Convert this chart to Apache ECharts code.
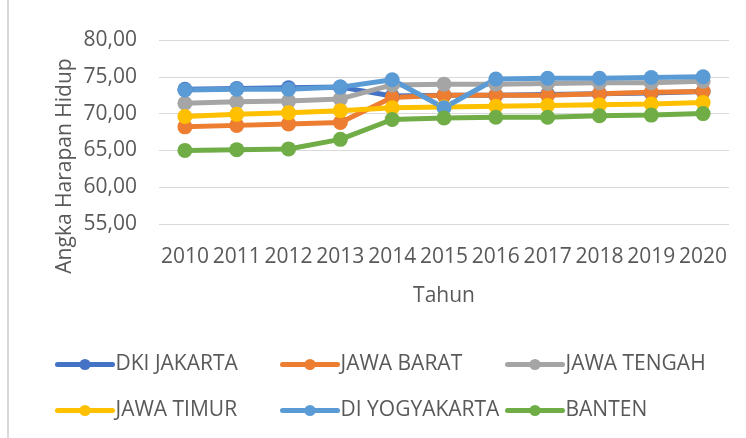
<!DOCTYPE html>
<html>
<head>
<meta charset="utf-8">
<script src="https://cdn.jsdelivr.net/npm/echarts@6/dist/echarts.min.js"></script>
<style>
  html, body { margin: 0; padding: 0; background: #fff; }
  #chart { width: 746px; height: 438px; }
</style>
</head>
<body>
<div id="chart"></div>
<script>
  // tahun (kategori sumbu x)
  const years = ["2010", "2011", "2012", "2013", "2014", "2015", "2016", "2017", "2018", "2019", "2020"];
  // angka harapan hidup per provinsi
  const dkiJakarta = [73.3, 73.4, 73.5, 73.6, 72.4, 72.5, 72.5, 72.6, 72.7, 72.8, 73.0];
  const jawaBarat = [68.2, 68.4, 68.6, 68.8, 72.2, 72.5, 72.5, 72.5, 72.7, 72.9, 73.0];
  const jawaTengah = [71.4, 71.6, 71.7, 72.0, 73.9, 74.0, 74.0, 74.1, 74.2, 74.2, 74.4];
  const jawaTimur = [69.6, 69.9, 70.1, 70.4, 70.8, 70.9, 71.0, 71.1, 71.2, 71.3, 71.5];
  const diYogyakarta = [73.2, 73.3, 73.3, 73.6, 74.6, 70.8, 74.7, 74.8, 74.8, 74.9, 75.0];
  const banten = [65.0, 65.1, 65.2, 66.5, 69.2, 69.4, 69.5, 69.5, 69.7, 69.8, 70.0];

  const seriesList = [
    { name: "DKI JAKARTA", data: dkiJakarta, color: "#4472C4" },
    { name: "JAWA BARAT", data: jawaBarat, color: "#ED7D31" },
    { name: "JAWA TENGAH", data: jawaTengah, color: "#A5A5A5" },
    { name: "JAWA TIMUR", data: jawaTimur, color: "#FFC000" },
    { name: "DI YOGYAKARTA", data: diYogyakarta, color: "#5B9BD5" },
    { name: "BANTEN", data: banten, color: "#70AD47" }
  ];

  const font = "'Open Sans', sans-serif";
  const textColor = "#595959";

  // posisi legenda: 3 kolom x 2 baris
  const legendPos = [[55, 354], [280, 354], [505, 354], [55, 400], [280, 400], [505, 400]];

  const chart = echarts.init(document.getElementById("chart"));
  const option = {
    backgroundColor: "#fff",
    animation: false,
    grid: { left: 159, top: 40, width: 570, height: 184 },
    legend: seriesList.map((s, i) => ({
      data: [s.name],
      left: legendPos[i][0],
      top: legendPos[i][1],
      padding: 0,
      itemWidth: 55,
      itemHeight: 14,
      itemGap: 0,
      lineStyle: { width: 5, cap: "round" },
      textStyle: { fontFamily: font, fontSize: 21, color: textColor, padding: [0, 0, 0, -2] }
    })),
    graphic: [
      {
        type: "line",
        shape: { x1: 8, y1: 0, x2: 8, y2: 438 },
        style: { stroke: "#d9d9d9", lineWidth: 2 }
      },
      {
        type: "text",
        x: 65,
        y: 166,
        rotation: Math.PI / 2,
        style: {
          text: "Angka Harapan Hidup",
          fontFamily: font,
          fontSize: 21,
          fill: textColor,
          align: "center",
          verticalAlign: "middle"
        }
      }
    ],
    xAxis: {
      type: "category",
      data: years,
      boundaryGap: true,
      name: "Tahun",
      nameLocation: "middle",
      nameGap: 62,
      nameTextStyle: { fontFamily: font, fontSize: 21, color: textColor },
      axisLine: { show: false },
      axisTick: { show: false },
      axisLabel: { fontFamily: font, fontSize: 21, color: textColor, margin: 23, interval: 0 }
    },
    yAxis: {
      type: "value",
      min: 55,
      max: 80,
      interval: 5,
      axisLine: { show: false },
      axisTick: { show: false },
      splitLine: { lineStyle: { color: "#d9d9d9", width: 1 } },
      axisLabel: {
        fontFamily: font,
        fontSize: 21,
        color: textColor,
        margin: 22,
        formatter: v => v.toFixed(2).replace(".", ",")
      }
    },
    series: seriesList.map(s => ({
      name: s.name,
      type: "line",
      data: s.data,
      symbol: "circle",
      symbolSize: 15,
      color: s.color,
      lineStyle: { width: 5, color: s.color },
      itemStyle: { color: s.color }
    }))
  };
  chart.setOption(option);
</script>
</body>
</html>
